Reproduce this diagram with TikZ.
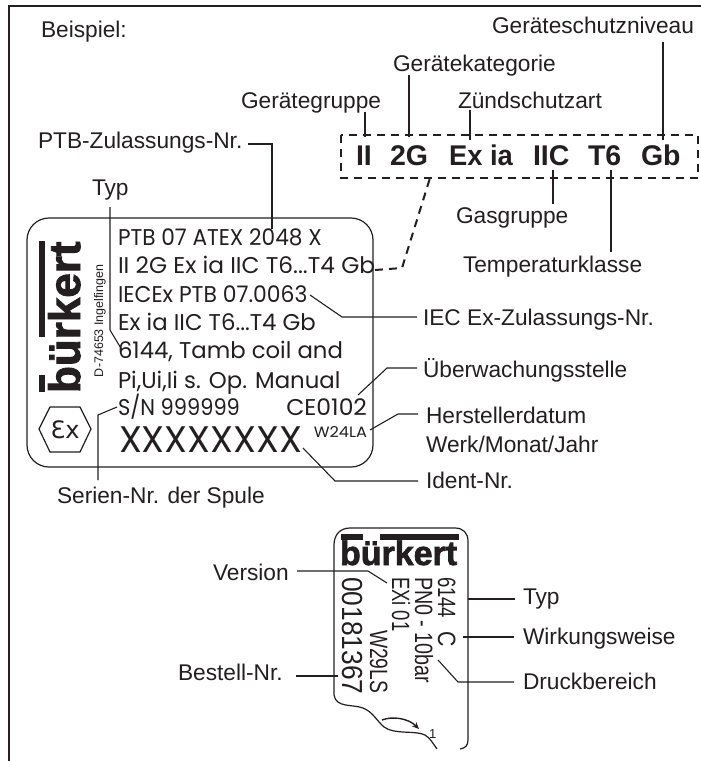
\documentclass[tikz,border=0pt]{standalone}
\usepackage{fontspec}
\usetikzlibrary{arrows.meta}
\setmainfont{Liberation Sans}
\newfontfamily\platefont{Poppins}
\newfontfamily\exfont{DejaVu Sans}
\newfontfamily\logofont[FakeBold=2]{Liberation Sans Bold}
\definecolor{ink}{HTML}{231F20}
\newcommand{\xs}[2]{\scalebox{#1}[1]{#2}}
\tikzset{
  every node/.style={inner sep=0pt,outer sep=0pt,text=ink},
  lbl/.style={anchor=base west,font=\fontsize{22.7}{24}\selectfont},
  plate/.style={anchor=base west,font=\platefont\fontsize{22.8}{24}\selectfont},
  code/.style={anchor=base west,font=\bfseries\fontsize{28.5}{30}\selectfont},
  small/.style={anchor=base west,rotate=-90,font=\fontsize{25}{26}\selectfont},
  leader/.style={draw=ink,line width=1.1pt},
  outline/.style={draw=ink,line width=1.2pt},
  dashline/.style={draw=ink,line width=2pt,dash pattern=on 8pt off 6pt}
}
\begin{document}
\begin{tikzpicture}[x=1pt,y=-1pt]
\useasboundingbox (0,0) rectangle (701,761);
\fill[white] (0,0) rectangle (701,761);
% frame
\coordinate (fa) at (9,761); \coordinate (fb) at (9,6); \coordinate (fc) at (701,6);
\draw[outline] (fa) -- (fb) -- (fc);
% top labels
\node[lbl] (beispiel) at (41,37) {Beispiel:};
\node[lbl] (gschutz) at (492,33) {Geräteschutzniveau};
\node[lbl] (gkat) at (393,71) {Gerätekategorie};
\node[lbl] (ggruppe) at (241,108) {Gerätegruppe};
\node[lbl] (zuend) at (458,108) {Zündschutzart};
\node[lbl] (ptbl) at (38,148) {PTB-Zulassungs-Nr.};
\node[lbl] (typa) at (92,195) {Typ};
\node[lbl] (gas) at (456,223) {Gasgruppe};
\node[lbl] (temp) at (463,272) {Temperaturklasse};
% code box
\node[draw=none,minimum width=357pt,minimum height=43pt,anchor=north west] (cbox) at (341,135) {};
\draw[dashline] (cbox.north west) rectangle (cbox.south east);
\node[code] (cII) at (356,165) {II};
\node[code] (c2G) at (390,165) {2G};
\node[code] (cEx) at (449,165) {\xs{.96}{Ex ia}};
\node[code] (cIIC) at (533,165) {IIC};
\node[code] (cT6) at (588,165) {T6};
\node[code] (cGb) at (641,165) {Gb};
% leaders to code box
\coordinate (l1) at (365,112); \coordinate (l1e) at (365,137);
\coordinate (l2) at (409,75); \coordinate (l2e) at (409,137);
\coordinate (l3) at (470,110); \coordinate (l3e) at (470,140);
\coordinate (l4) at (663,42); \coordinate (l4e) at (663,140);
\coordinate (l5) at (553,204); \coordinate (l5e) at (553,170);
\coordinate (l6) at (611,252); \coordinate (l6e) at (611,170);
\foreach \a/\b in {l1/l1e,l2/l2e,l3/l3e,l4/l4e,l5/l5e,l6/l6e} \draw[leader] (\a) -- (\b);
% plate
\node[draw=ink,line width=1.2pt,rounded corners=22pt,minimum width=346pt,minimum height=249pt,anchor=north west] (platebox) at (27,218) {};
\node[plate] (p1) at (118,245) {\xs{.95}{PTB 07 ATEX 2048 X}};
\node[plate] (p2) at (118,273) {\xs{1.02}{II 2G Ex ia IIC T6...T4 Gb}};
\node[plate] (p3) at (118,302) {\xs{.96}{IECEx PTB 07.0063}};
\node[plate] (p4) at (118,330) {Ex ia IIC T6...T4 Gb};
\node[plate] (p5) at (118,358) {6144, Tamb coil and};
\node[plate] (p6) at (118,388) {Pi,Ui,Ii s. Op. Manual};
\node[plate] (p7) at (118,415) {\xs{.92}{S/N 999999}};
\node[plate,anchor=base east] (p7b) at (367,415) {\xs{1.03}{CE0102}};
\node[plate,font=\platefont\fontsize{37}{40}\selectfont] (p8) at (119,452) {XXXXXXXX};
\node[plate,font=\platefont\fontsize{15}{17}\selectfont,anchor=base east] (p9) at (367,437) {\xs{1.08}{W24LA}};
% logo
\node[anchor=base west,rotate=90,font=\logofont\fontsize{44}{48}\selectfont] (logoa) at (80,393) {bürkert};
\fill[ink] (39,241) rectangle (45,337);
\fill[ink] (39,375) rectangle (45,392);
\node[anchor=base west,rotate=90,font=\fontsize{12.5}{14}\selectfont] (ingel) at (103,377) {D-74653 Ingelfingen};
% Ex hexagon
\draw[outline] (39,429) -- (50,407) -- (80,407) -- (91,429) -- (80,452) -- (50,452) -- cycle;
\node[anchor=center,font=\exfont\fontsize{24}{26}\selectfont] (exs) at (65,430) {Ɛx};
% dashed link
\coordinate (dl) at (375,270); \coordinate (dm) at (402,268); \coordinate (dt) at (430,178);
\draw[dashline] (dl) -- (dm) -- (dt);
% right labels
\node[lbl] (iec) at (423,325) {IEC Ex-Zulassungs-Nr.};
\node[lbl] (ueb) at (423,377) {Überwachungsstelle};
\node[lbl] (her) at (426,423) {Herstellerdatum};
\node[lbl] (werk) at (426,452) {Werk/Monat/Jahr};
\node[lbl] (ident) at (426,488) {Ident-Nr.};
\node[lbl] (serien) at (57,503) {Serien-Nr. der Spule};
% plate leaders
\coordinate (a1) at (248,144); \coordinate (a2) at (272,144); \coordinate (a3) at (272,229);
\draw[leader] (a1) -- (a2) -- (a3);
\coordinate (b1) at (110,207); \coordinate (b2) at (110,330); \coordinate (b3) at (122,350);
\draw[leader] (b1) -- (b2) -- (b3);
\coordinate (c1) at (310,295); \coordinate (c2) at (342,317); \coordinate (c3) at (417,317);
\draw[leader] (c1) -- (c2) -- (c3);
\coordinate (d1) at (358,395); \coordinate (d2) at (387,368); \coordinate (d3) at (417,368);
\draw[leader] (d1) -- (d2) -- (d3);
\coordinate (e1) at (370,430); \coordinate (e2) at (398,414); \coordinate (e3) at (418,414);
\draw[leader] (e1) -- (e2) -- (e3);
\coordinate (g1) at (303,448); \coordinate (g2) at (335,481); \coordinate (g3) at (418,481);
\draw[leader] (g1) -- (g2) -- (g3);
\coordinate (h1) at (117,407); \coordinate (h2) at (98,415); \coordinate (h3) at (98,480);
\draw[leader] (h1) -- (h2) -- (h3);
% small label
\draw[outline] (334,695) -- (334,545) .. controls (334,535) and (340,528) .. (350,528) -- (455,528)
  .. controls (463,528) and (468,533) .. (468,541) -- (468,740) .. controls (468,745) and (466,748) .. (460,749)
  (437,749) .. controls (432,742) and (430,738) .. (425,735)
  .. controls (415,730) and (395,735) .. (384,727)
  .. controls (376,720) and (373,712) .. (363,708)
  .. controls (352,704) and (336,708) .. (334,695);
\node[anchor=base west,font=\logofont\fontsize{34}{36}\selectfont] (logob) at (340,565) {bürkert};
\fill[ink] (341,534) rectangle (363,540);
\fill[ink] (380,534) rectangle (459,540);
\node[small] (s1) at (438,577) {\xs{.74}{6144}};
\node[small] (s1c) at (438,631) {\xs{.85}{C}};
\node[small] (s2) at (415,577) {\xs{.79}{PN0 - 10bar}};
\node[small] (s3) at (392,577) {\xs{.74}{EXi 01}};
\node[small] (s4) at (370,630) {\xs{.77}{W29LS}};
\node[small,font=\fontsize{29}{30}\selectfont] (s5) at (342,577) {\xs{.91}{00181367}};
\node[anchor=base west,font=\fontsize{13}{15}\selectfont] (one) at (429,738) {1};
\coordinate (ar1) at (382,720); \coordinate (ar2) at (419,729);
\draw[draw=ink,line width=1.4pt,-{Stealth[length=7pt,width=6pt]}] (ar1) .. controls (392,716) and (408,718) .. (ar2);
% small label texts
\node[lbl] (version) at (213,580) {Version};
\node[lbl] (bestell) at (178,680) {Bestell-Nr.};
\node[lbl] (typb) at (523,604) {Typ};
\node[lbl] (wirk) at (523,644) {Wirkungsweise};
\node[lbl] (druck) at (523,689) {Druckbereich};
\coordinate (v1) at (297,571); \coordinate (v2) at (368,571); \coordinate (v3) at (387,583);
\draw[leader] (v1) -- (v2) -- (v3);
\coordinate (w1) at (296,676); \coordinate (w2) at (338,676);
\draw[leader] (w1) -- (w2);
\coordinate (t1) at (468,599); \coordinate (t2) at (515,599);
\draw[leader] (t1) -- (t2);
\coordinate (u1) at (463,637); \coordinate (u2) at (514,637);
\draw[leader] (u1) -- (u2);
\coordinate (x1) at (438,660); \coordinate (x2) at (458,682); \coordinate (x3) at (514,682);
\draw[leader] (x1) -- (x2) -- (x3);
\end{tikzpicture}
\end{document}
